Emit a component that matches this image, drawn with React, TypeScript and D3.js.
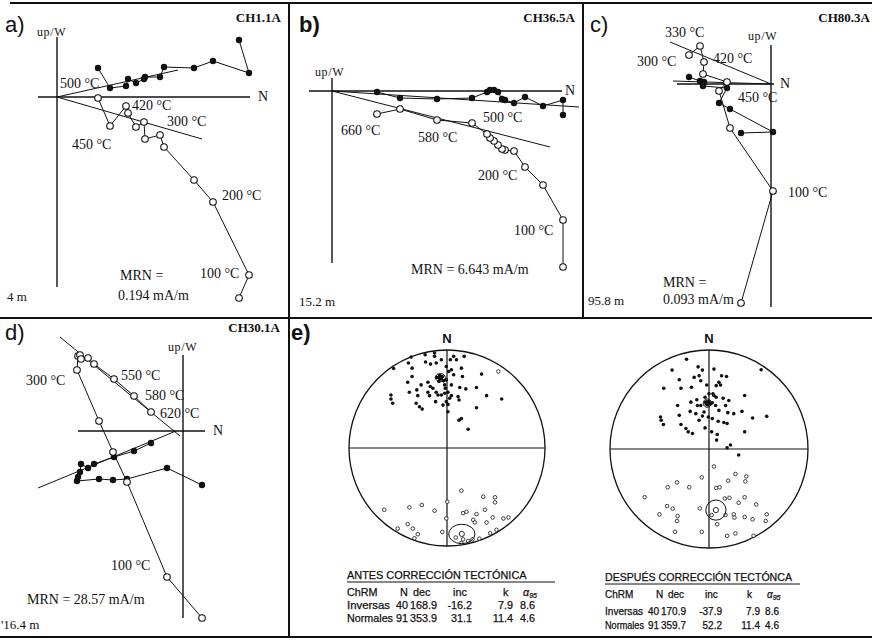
import * as d3 from 'd3';

// [north, west (horizontal plane), up (vertical plane)] — arbitrary intensity units, NRM first
type Step = [number, number, number];
type Pt = [number, number];
type Label = [string, number, number];

// ---- a) CH1.1A
const stepsA: Step[] = [
  [182, 57, -201], [192, 24, -178], [156, 36, -105], [137, 29, -83], [107, 30, -50],
  [103, 20, -38], [88, 20, -42], [87, 18, -25], [79, 14, -30], [71, 18, -16],
  [69, 11, -9], [53, 9, -29], [41, 29, -1],
];
const fitHA: Pt[] = [[0, 0], [121, 27]];
const fitVA: Pt[] = [[0, 0], [145, -42]];
const labelsA: Label[] = [
  ['500 °C', 3, 9], ['420 °C', 75, -13], ['300 °C', 110, -29], ['450 °C', 15, -52],
  ['200 °C', 165, -103], ['100 °C', 143, -181],
];

// ---- b) CH36.5A
const stepsB: Step[] = [
  [231, -24, -176], [231, -9, -129], [211, -15, -94], [193, -6, -76], [182, -12, -60],
  [173, -9, -59], [170, -8, -58], [166, -1, -54], [162, 1, -50], [158, 1, -47],
  [155, -1, -43], [140, -7, -32], [105, -8, -29], [68, -7, -18], [45, -1, -23],
];
const fitHB: Pt[] = [[0, 0], [247, -16]];
const fitVB: Pt[] = [[0, 0], [218, -56]];
const labelsB: Label[] = [
  ['660 °C', 9, -44], ['580 °C', 86, -51], ['500 °C', 151, -31],
  ['200 °C', 146, -89], ['100 °C', 182, -144],
];

// ---- c) CH80.3A
const stepsC: Step[] = [
  [-30, -49, -219], [2, -48, -107], [-41, -25, -44], [-52, -19, -7], [-44, -4, 2],
  [-68, -2, 10], [-67, 2, 22], [-71, 3, 38], [-82, 7, 29],
];
const fitHC: Pt[] = [[0, 0], [-98, 3]];
const fitVC: Pt[] = [[0, 0], [-101, 42]];
const labelsC: Label[] = [
  ['330 °C', -106, 47], ['300 °C', -134, 18], ['420 °C', -58, 21],
  ['450 °C', -33, -18], ['100 °C', 17, -113],
];

// ---- d) CH30.1A
const stepsD: Step[] = [
  [19, -54, -187], [-16, -37, -146], [-56, -48, -51], [-70, -49, -21], [-84, -48, 10],
  [-106, -50, 61], [-105, -46, 75], [-103, -41, 76], [-102, -33, 72], [-95, -37, 73],
  [-89, -33, 67], [-69, -26, 52], [-49, -20, 35], [-32, -12, 19],
];
const fitHD: Pt[] = [[-145, -57], [-7, 0]];
const fitVD: Pt[] = [[-123, 94], [-3, -5]];
const labelsD: Label[] = [
  ['300 °C', -157, 46], ['550 °C', -62, 51], ['580 °C', -38, 31],
  ['620 °C', -23, 13], ['100 °C', -72, -139],
];

// ---- e) equal-area projections, % of net radius (east, north)
const antesNormales: Pt[] = [
  [-36.6, 92.8], [-39.4, 86.7], [-35.6, 81.5], [-54.5, 81.2], [-22.3, 95.2], [-12.7, 96.9],
  [-12.7, 93.5], [-21.9, 87.7], [-16.8, 85.6], [-11.0, 86.7], [-5.8, 90.1], [3.4, 90.1],
  [6.8, 93.5], [9.6, 90.1], [17.5, 93.5], [14.7, 81.5], [4.5, 79.8], [6.8, 74.7],
  [15.8, 73.0], [35.3, 75.4], [-40.1, 67.1], [-35.6, 73.0], [-26.4, 64.4], [-19.5, 67.1],
  [-17.1, 62.7], [-10.3, 71.9], [-7.5, 74.0], [-4.8, 73.0], [-5.8, 70.6], [-3.4, 68.5],
  [-8.2, 67.8], [-0.7, 69.5], [-2.4, 64.4], [4.5, 64.4], [13.0, 61.7], [19.2, 60.3],
  [30.1, 61.7], [-57.2, 54.1], [-57.2, 50.0], [-55.5, 45.6], [-38.4, 56.9], [-30.8, 59.3],
  [-29.8, 53.4], [-19.5, 56.9], [-17.8, 53.4], [-11.0, 56.9], [-9.2, 54.1], [-5.8, 54.1],
  [-2.4, 55.8], [1.0, 56.9], [2.7, 50.7], [4.5, 53.4], [11.3, 52.4], [12.3, 49.0],
  [40.4, 53.4], [55.8, 50.0], [-31.5, 45.6], [-28.1, 42.1], [-25.3, 39.7], [-11.6, 47.3],
  [-4.1, 43.8], [1.0, 44.5], [1.0, 37.0], [30.1, 41.1], [12.3, 28.4], [14.7, 30.1],
  [21.6, 19.2], [-0.7, 83.2], [1.7, 78.1], [-14.4, 61.0], [-0.7, 47.3], [-1.7, 61.0],
];
const antesInversas: Pt[] = [
  [52.4, 78.1], [14.7, -43.5], [37.0, -49.7], [49.0, -50.3], [49.0, -55.5], [0.3, -54.8],
  [-64.0, -63.0], [-38.4, -60.6], [-25.7, -58.2], [-12.7, -64.0], [16.4, -66.4], [19.9, -65.1],
  [30.1, -67.5], [38.7, -63.0], [46.6, -70.9], [57.5, -71.9], [62.7, -70.9], [26.7, -73.3],
  [28.4, -76.0], [40.4, -76.0], [-0.7, -71.9], [-50.3, -82.2], [-40.1, -77.7], [-34.9, -82.2],
  [-29.8, -88.0], [-33.2, -92.1], [-4.8, -85.6], [8.9, -91.4], [16.4, -93.2], [21.6, -94.9],
  [26.0, -93.2], [33.0, -92.5], [44.0, -87.0], [50.5, -83.5], [14.7, -97.0],
];
const despuesNormales: Pt[] = [
  [-22.7, 90.7], [-37.3, 79.7], [-11.0, 83.0], [-6.7, 79.7], [5.0, 80.7], [52.7, 80.0],
  [-15.0, 72.3], [-10.0, 74.0], [-8.3, 69.0], [-2.3, 64.7], [7.3, 64.0], [10.0, 67.3],
  [11.7, 64.7], [17.7, 73.3], [-30.0, 70.0], [-28.3, 61.3], [-45.7, 61.3], [-17.7, 62.3],
  [-4.0, 52.3], [5.0, 54.0], [0.0, 55.7], [14.3, 51.3], [20.0, 49.0], [36.0, 54.0],
  [-31.7, 44.0], [-18.3, 47.3], [-12.3, 49.7], [-11.7, 44.0], [-8.3, 44.0], [-3.3, 47.3],
  [0.0, 48.0], [1.7, 45.7], [-1.7, 44.7], [3.3, 46.7], [6.7, 44.0], [10.0, 39.0],
  [19.0, 36.7], [25.0, 35.7], [33.3, 38.0], [44.0, 31.3], [58.3, 33.0], [-30.0, 34.0],
  [-19.0, 38.0], [-13.3, 35.7], [-6.7, 33.3], [-0.7, 32.3], [3.3, 30.7], [9.3, 28.0],
  [15.0, 26.7], [18.3, 25.7], [-49.0, 32.3], [-48.3, 29.0], [-46.0, 24.7], [-28.3, 24.7],
  [-23.3, 20.7], [-21.0, 17.3], [-16.7, 15.7], [-4.0, 21.3], [2.7, 17.3], [8.3, 14.7],
  [7.7, 9.0], [36.0, 17.3], [21.7, 4.0], [18.3, 1.3], [30.0, -6.0], [12.7, 74.0],
  [4.0, 55.7], [7.3, 52.3], [16.7, 44.0], [-10.0, 29.0], [-5.0, 37.3],
];
const despuesInversas: Pt[] = [
  [5.0, -17.7], [-7.3, -28.7], [19.3, -32.0], [26.7, -25.3], [37.7, -27.7], [36.7, -32.7],
  [-41.7, -38.7], [-32.3, -33.7], [-20.0, -38.7], [7.3, -39.3], [10.7, -38.7], [-65.0, -48.7],
  [16.0, -50.0], [20.7, -49.3], [36.0, -48.7], [30.0, -54.3], [47.7, -56.0], [-42.3, -57.7],
  [-36.7, -60.3], [-50.0, -66.0], [-31.7, -67.7], [-32.3, -72.7], [-9.3, -60.0], [2.7, -66.7],
  [16.7, -66.7], [25.0, -66.0], [25.7, -69.3], [36.0, -68.7], [44.0, -71.0], [58.3, -66.0],
  [57.3, -72.7], [-34.3, -83.7], [-7.3, -83.7], [8.3, -76.0], [18.3, -87.7], [26.7, -85.3],
  [45.0, -87.7],
];
// mean directions with alpha95 cone: [east, north, rx, ry]
const antesMeans: [number, number, number, number][] = [[-6.8, 71.9, 5.1, 4.1], [15.1, -87.7, 13.4, 9.9]];
const despuesMeans: [number, number, number, number][] = [[-1.7, 46.3, 4.2, 4.2], [7.0, -61.7, 10.2, 10.2]];

// ---- tables
const tableHead = ['ChRM', 'N', 'dec', 'inc', 'k'];
const antesRows: (string | number)[][] = [
  ['Inversas', 40, '168.9', '-16.2', '7.9', '8.6'],
  ['Normales', 91, '353.9', '31.1', '11.4', '4.6'],
];
const despuesRows: (string | number)[][] = [
  ['Inversas', 40, '170.9', '-37.9', '7.9', '8.6'],
  ['Normales', 91, '359.7', '52.2', '11.4', '4.6'],
];

const INK = '#111';
const SERIF = '"Liberation Serif", "DejaVu Serif", serif';
const SANS = '"Liberation Sans", Arial, sans-serif';

interface ZProps {
  ox: number;
  oy: number;
  steps: Step[];
  fitH: Pt[];
  fitV: Pt[];
  nExtent: [number, number];
  vExtent: [number, number];
  labels: Label[];
  nLabel: Pt;
  upLabel: Pt;
}

function Zijderveld({ ox, oy, steps, fitH, fitV, nExtent, vExtent, labels, nLabel, upLabel }: ZProps) {
  const x = d3.scaleLinear().domain([0, 100]).range([ox, ox + 100]);
  const y = d3.scaleLinear().domain([0, 100]).range([oy, oy - 100]);
  const hLine = d3.line<Step>().x((d) => x(d[0])).y((d) => y(d[1]));
  const vLine = d3.line<Step>().x((d) => x(d[0])).y((d) => y(d[2]));
  const seg = d3.line<Pt>().x((d) => x(d[0])).y((d) => y(d[1]));

  return (
    <g>
      <line x1={x(nExtent[0])} x2={x(nExtent[1])} y1={y(0)} y2={y(0)} stroke={INK} strokeWidth={1.4} />
      <line x1={x(0)} x2={x(0)} y1={y(vExtent[0])} y2={y(vExtent[1])} stroke={INK} strokeWidth={1.4} />
      <path d={seg(fitH) ?? ''} fill="none" stroke={INK} strokeWidth={1} />
      <path d={seg(fitV) ?? ''} fill="none" stroke={INK} strokeWidth={1} />
      <path d={hLine(steps) ?? ''} fill="none" stroke={INK} strokeWidth={1} />
      <path d={vLine(steps) ?? ''} fill="none" stroke={INK} strokeWidth={1} />
      {steps.map((d, i) => (
        <circle key={`h${i}`} cx={x(d[0])} cy={y(d[1])} r={3.2} fill={INK} />
      ))}
      {steps.map((d, i) => (
        <circle key={`v${i}`} cx={x(d[0])} cy={y(d[2])} r={3.3} fill="#fff" stroke={INK} strokeWidth={1.1} />
      ))}
      {labels.map(([t, n, v], i) => (
        <text key={`l${i}`} x={x(n)} y={y(v)} fontFamily={SERIF} fontSize={14} fill={INK}>
          {t}
        </text>
      ))}
      <text x={x(nLabel[0])} y={y(nLabel[1])} fontFamily={SERIF} fontSize={14} fill={INK}>
        N
      </text>
      <text x={x(upLabel[0])} y={y(upLabel[1])} fontFamily={SERIF} fontSize={12} letterSpacing={0.6} fill={INK}>
        up/W
      </text>
    </g>
  );
}

interface SProps {
  cx: number;
  cy: number;
  r: number;
  normals: Pt[];
  reversals: Pt[];
  means: [number, number, number, number][];
}

function Stereonet({ cx, cy, r, normals, reversals, means }: SProps) {
  const sx = d3.scaleLinear().domain([-100, 100]).range([cx - r, cx + r]);
  const sy = d3.scaleLinear().domain([-100, 100]).range([cy + r, cy - r]);
  const k = r / 100;
  return (
    <g>
      <circle cx={cx} cy={cy} r={r} fill="none" stroke={INK} strokeWidth={1.3} />
      <line x1={sx(-100)} x2={sx(100)} y1={sy(0)} y2={sy(0)} stroke={INK} strokeWidth={1.2} />
      <line x1={sx(0)} x2={sx(0)} y1={sy(100)} y2={sy(-100)} stroke={INK} strokeWidth={1.2} />
      <text x={sx(0)} y={cy - r - 7} textAnchor="middle" fontFamily={SANS} fontWeight="bold" fontSize={13} fill={INK}>
        N
      </text>
      {normals.map((d, i) => (
        <circle key={`n${i}`} cx={sx(d[0])} cy={sy(d[1])} r={1.8} fill={INK} />
      ))}
      {reversals.map((d, i) => (
        <circle key={`r${i}`} cx={sx(d[0])} cy={sy(d[1])} r={1.8} fill="#fff" stroke={INK} strokeWidth={0.8} />
      ))}
      {means.map((m, i) => (
        <g key={`m${i}`}>
          <ellipse cx={sx(m[0])} cy={sy(m[1])} rx={m[2] * k} ry={m[3] * k} fill="none" stroke={INK} strokeWidth={1} />
          <circle cx={sx(m[0])} cy={sy(m[1])} r={2.6} fill={i === 0 ? INK : '#fff'} stroke={INK} strokeWidth={0.9} />
        </g>
      ))}
    </g>
  );
}

interface TProps {
  x0: number;
  title: string;
  titleY: number;
  titleSize: number;
  ruleEnd: number;
  headX: number[];
  valueX: number[];
  headY: number;
  rowY: number[];
  rows: (string | number)[][];
  fs: number;
  nameWidth?: number[];
}

function Table({ x0, title, titleY, titleSize, ruleEnd, headX, valueX, headY, rowY, rows, fs, nameWidth }: TProps) {
  return (
    <g fontFamily={SANS} fill={INK} stroke={INK} strokeWidth={0.25}>
      <text x={x0} y={titleY} fontSize={titleSize}>
        {title}
      </text>
      <line x1={x0} x2={ruleEnd} y1={titleY + 3} y2={titleY + 3} stroke={INK} strokeWidth={1.2} />
      {tableHead.map((h, i) => (
        <text key={h} x={headX[i]} y={headY} fontSize={fs}>
          {h}
        </text>
      ))}
      <text x={headX[5]} y={headY} fontSize={fs} fontStyle="italic">
        α<tspan fontSize={7} dy={2}>95</tspan>
      </text>
      {rows.map((row, ri) =>
        row.map((v, ci) => (
          <text
            key={`${ri}-${ci}`}
            x={ci === 0 ? x0 : valueX[ci]}
            y={rowY[ri]}
            fontSize={fs}
            textAnchor={ci === 0 ? 'start' : 'end'}
            textLength={ci === 0 && nameWidth ? nameWidth[ri] : undefined}
            lengthAdjust={ci === 0 && nameWidth ? 'spacingAndGlyphs' : undefined}
          >
            {v}
          </text>
        )),
      )}
    </g>
  );
}

export default function App() {
  return (
    <svg
      width={872}
      height={643}
      viewBox="0 0 872 643"
      style={{ position: 'absolute', left: 0, top: 0, background: '#fff', display: 'block' }}
    >
      <rect width={872} height={643} fill="#fff" />
      {/* frame */}
      <g stroke={INK} strokeWidth={2}>
        <line x1={10} x2={872} y1={3} y2={3} />
        <line x1={289} x2={289} y1={3} y2={318} />
        <line x1={583} x2={583} y1={3} y2={318} />
        <line x1={0} x2={872} y1={318} y2={318} />
        <line x1={289} x2={289} y1={318} y2={637} />
        <line x1={0} x2={872} y1={637} y2={637} />
      </g>

      {/* panel letters */}
      <g fontFamily={SANS} fontSize={22} fill={INK}>
        <text x={5} y={32}>a)</text>
        <text x={299} y={32} fontWeight="bold">b)</text>
        <text x={590} y={32}>c)</text>
        <text x={5} y={340}>d)</text>
        <text x={291} y={340} fontWeight="bold">e)</text>
      </g>

      {/* sample names */}
      <g fontFamily={SERIF} fontSize={13} fontWeight="bold" fill={INK} textAnchor="end">
        <text x={281} y={22}>CH1.1A</text>
        <text x={575} y={22}>CH36.5A</text>
        <text x={870} y={22}>CH80.3A</text>
        <text x={280} y={332}>CH30.1A</text>
      </g>

      <Zijderveld ox={57} oy={97} steps={stepsA} fitH={fitHA} fitV={fitVA} nExtent={[-19, 193]} vExtent={[60, -190]}
        labels={labelsA} nLabel={[201, -4]} upLabel={[-20, 61]} />
      <Zijderveld ox={332} oy={91} steps={stepsB} fitH={fitHB} fitV={fitVB} nExtent={[-23, 230]} vExtent={[13, -172]}
        labels={labelsB} nLabel={[233, -4]} upLabel={[-17, 15]} />
      <Zijderveld ox={771} oy={84} steps={stepsC} fitH={fitHC} fitV={fitVC} nExtent={[-94, 3]} vExtent={[39, -223]}
        labels={labelsC} nLabel={[9, -4]} upLabel={[-23, 44]} />
      <Zijderveld ox={183} oy={431} steps={stepsD} fitH={fitHD} fitV={fitVD} nExtent={[-105, 22]} vExtent={[76, -187]}
        labels={labelsD} nLabel={[30, -4]} upLabel={[-15, 80]} />

      {/* intensities and depths */}
      <g fontFamily={SERIF} fontSize={14} fill={INK}>
        <text x={120} y={280}>MRN =</text>
        <text x={118} y={300}>0.194 mA/m</text>
        <text x={411} y={274}>MRN = 6.643 mA/m</text>
        <text x={663} y={287}>MRN =</text>
        <text x={663} y={304}>0.093 mA/m</text>
        <text x={27} y={604}>MRN = 28.57 mA/m</text>
      </g>
      <g fontFamily={SERIF} fontSize={13} fill={INK}>
        <text x={7} y={301}>4 m</text>
        <text x={299} y={306}>15.2 m</text>
        <text x={588} y={305}>95.8 m</text>
        <text x={1} y={629}>'16.4 m</text>
      </g>

      <Stereonet cx={447} cy={448} r={98} normals={antesNormales} reversals={antesInversas} means={antesMeans} />
      <Stereonet cx={709} cy={449} r={99} normals={despuesNormales} reversals={despuesInversas} means={despuesMeans} />

      <Table x0={347} title="ANTES CORRECCIÓN TECTÓNICA" titleY={579} titleSize={10.9} ruleEnd={555}
        headX={[347, 400, 413, 453, 503, 523]} valueX={[347, 408, 437, 472, 513, 535]}
        headY={596} rowY={[609, 622]} rows={antesRows} fs={10.8} nameWidth={[43, 46]} />
      <Table x0={605} title="DESPUÉS CORRECCIÓN TECTÓNCA" titleY={581} titleSize={10.6} ruleEnd={800}
        headX={[605, 656, 668, 705, 747, 767]} valueX={[605, 659, 686, 722, 760, 779]}
        headY={598} rowY={[615, 629]} rows={despuesRows} fs={10} nameWidth={[38, 39]} />
    </svg>
  );
}
